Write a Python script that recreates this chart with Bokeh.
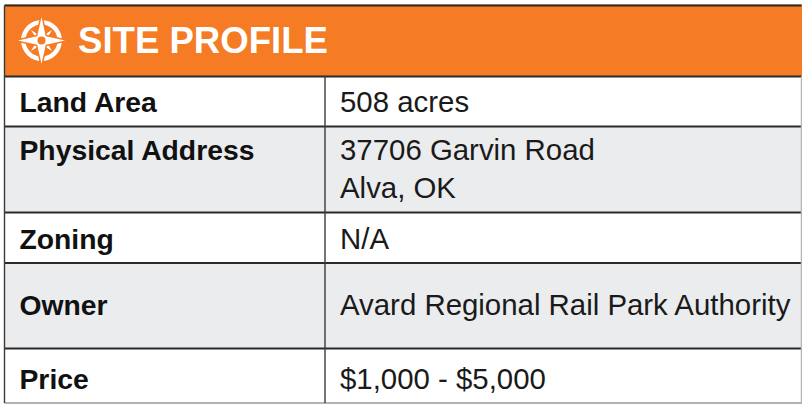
import math
from bokeh.plotting import figure
from bokeh.models import Range1d
from bokeh.core.properties import value
from bokeh.embed import file_html
from bokeh.resources import INLINE

title = "SITE PROFILE"
labels = ["Land Area", "Physical Address", "Zoning", "Owner", "Price"]
answers = [["508 acres"], ["37706 Garvin Road", "Alva, OK"], ["N/A"],
           ["Avard Regional Rail Park Authority"], ["$1,000 - $5,000"]]
row_edges = [76, 126, 212, 262.5, 348, 402.5]
row_fills = ["#ffffff", "#ebecee", "#ffffff", "#ebecee", "#ffffff"]
label_y = [101, 149, 238, 304, 378]
answer_y = [[101], [149, 187], [238], [304], [378]]
col_edges = [4, 324.5, 801]
FONT = "Liberation Sans"

p = figure(width=802, height=404, x_range=Range1d(0, 802), y_range=Range1d(404, 0),
           output_backend="svg", toolbar_location=None, min_border=0)
p.axis.visible = False
p.grid.visible = False
p.outline_line_color = None
p.background_fill_color = "#ffffff"
p.border_fill_color = "#ffffff"

p.quad(left=[col_edges[0]], right=[802], top=[4], bottom=[row_edges[0]],
       fill_color="#f57b24", line_color=None)
p.quad(left=[col_edges[0]] * 5, right=[col_edges[2]] * 5, top=row_edges[:-1], bottom=row_edges[1:],
       fill_color=row_fills, line_color=None)

p.segment(x0=[col_edges[0]] * 6, x1=[col_edges[2]] * 6, y0=[5] + row_edges[:-1], y1=[5] + row_edges[:-1],
          line_color="#2a2a2a", line_width=1.8)
p.segment(x0=[col_edges[0]], x1=[802], y0=[row_edges[-1]], y1=[row_edges[-1]],
          line_color="#9a9a9a", line_width=1.5)
p.segment(x0=[col_edges[2]], x1=[col_edges[2]], y0=[row_edges[0]], y1=[row_edges[-1]],
          line_color="#b5b5b5", line_width=1.5)
p.segment(x0=[col_edges[0], col_edges[1]], x1=[col_edges[0], col_edges[1]],
          y0=[5, row_edges[0]], y1=[row_edges[-1], row_edges[-1]],
          line_color="#3a3a3a", line_width=1.4)

# compass icon
cx, cy = 41, 40
def star(r_out, r_in, n, rot):
    xs, ys = [], []
    for i in range(2 * n):
        r = r_out if i % 2 == 0 else r_in
        a = rot + i * math.pi / n
        xs.append(cx + r * math.cos(a)); ys.append(cy + r * math.sin(a))
    return xs, ys
p.annulus(x=[cx], y=[cy], inner_radius=16, outer_radius=20.5, fill_color="#ffffff", line_color=None)
dx, dy = star(15, 4, 4, math.pi / 4)
p.patch(dx, dy, fill_color="#f57b24", line_color="#f57b24", line_width=3)
p.patch(dx, dy, fill_color="#ffffff", line_color=None)
sx, sy = star(23.5, 6, 4, 0)
p.patch(sx, sy, fill_color="#f57b24", line_color="#f57b24", line_width=3)
p.patch(sx, sy, fill_color="#ffffff", line_color=None)
p.circle(x=[cx], y=[cy], radius=4, fill_color="#f57b24", line_color=None)

p.text(x=[77.5], y=[40], text=[title], text_font=value(FONT), text_font_style="bold",
       text_font_size="36.6px", text_color="#ffffff", text_baseline="middle")
p.text(x=[19] * 5, y=label_y, text=labels, text_font=value(FONT), text_font_style="bold",
       text_font_size="28.3px", text_color="#111111", text_baseline="middle")
ax, ay, at = [], [], []
for lines, ys in zip(answers, answer_y):
    for s, y in zip(lines, ys):
        ax.append(339.5); ay.append(y); at.append(s)
p.text(x=ax, y=ay, text=at, text_font=value(FONT), text_font_size="29.4px",
       text_color="#1a1a1a", text_baseline="middle")

open("out.html", "w").write(file_html(p, INLINE))
